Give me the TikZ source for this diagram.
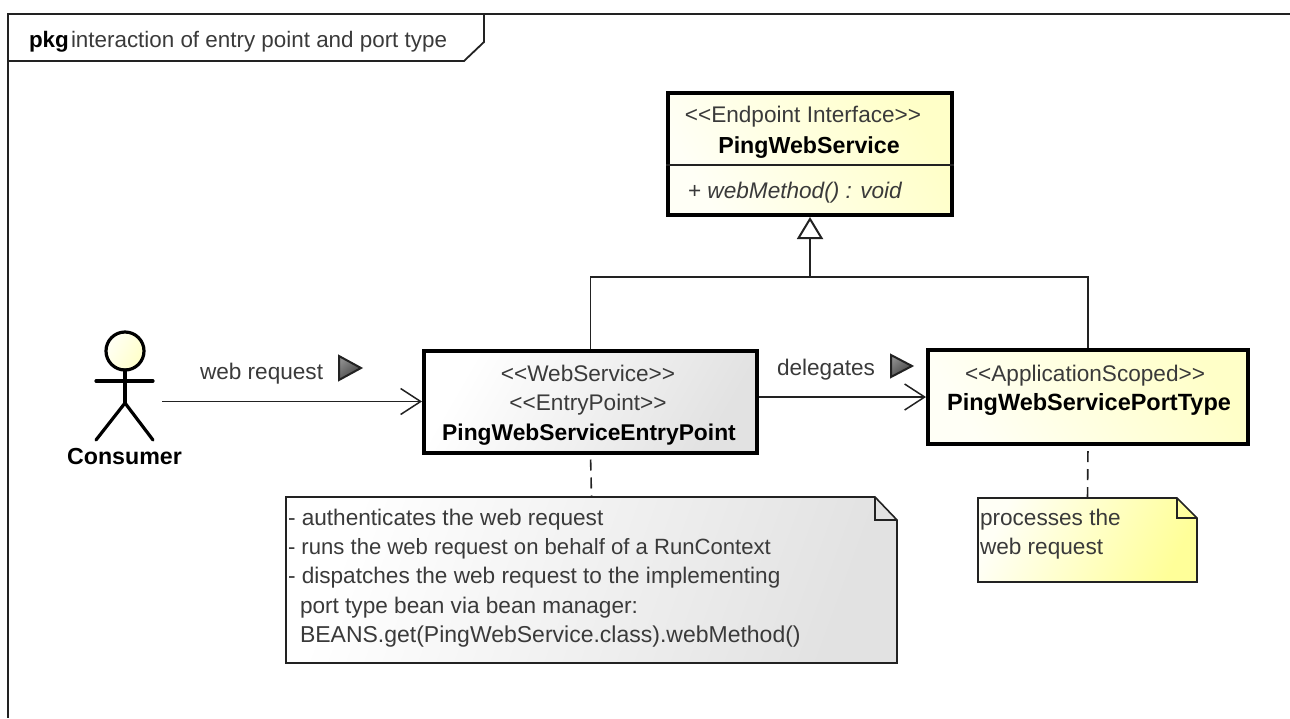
\documentclass[tikz,border=0pt]{standalone}
\usepackage{fontspec}
\setmainfont{Liberation Sans}
\usetikzlibrary{arrows.meta}
\definecolor{ink}{HTML}{222222}
\definecolor{soft}{HTML}{3A3A3A}
\definecolor{yelA}{HTML}{FFFFF6}
\definecolor{yelB}{HTML}{FFFFC8}
\definecolor{yelC}{HTML}{FFFF99}
\definecolor{greyA}{HTML}{FFFFFF}
\definecolor{greyB}{HTML}{E2E2E2}
\newcommand{\stereo}[1]{<{}<#1>{}>}
\tikzset{
  x=1pt,y=-1pt,
  base/.style={font=\fontsize{22.6}{29.3}\selectfont,inner sep=0pt,outer sep=0pt},
  label/.style={base,text=soft},
  bold/.style={base,text=black,font=\fontsize{23.2}{29}\selectfont\bfseries},
  classbox/.style={draw=black,line width=4pt,inner sep=0pt,outer sep=2pt},
  yelbox/.style={classbox,top color=yelB,bottom color=yelA,shading angle=-60},
  greybox/.style={classbox,top color=greyA,bottom color=greyB,shading angle=60},
  geom/.style={inner sep=0pt,outer sep=0pt},
  notetext/.style={label,align=left,anchor=north west},
  conn/.style={draw=ink,line width=1.6pt},
  assoc/.style={conn,-{Straight Barb[length=20pt,width=26pt,line width=1.5pt]}},
  gen/.style={conn,-{Triangle[open,length=22pt,width=26pt,line width=2pt,fill=white]}},
  notelink/.style={draw=ink,line width=1.6pt,dash pattern=on 11pt off 7pt,dash phase=13pt},
  noteline/.style={draw=ink,line width=1.6pt,line join=miter},
  stick/.style={draw=black,line width=3.2pt,line cap=round},
  dir/.style={draw=ink,line width=2pt,line join=miter,top color=black!45,bottom color=black!75,shading angle=40},
}
\begin{document}
\begin{tikzpicture}
\useasboundingbox (0,0) rectangle (1290,718);
% frame
\draw[draw=ink,line width=1.8pt] (1290,14) -- (8,14) -- (8,718);
\draw[draw=ink,line width=1.8pt] (484,14) -- (484,42) -- (464,61) -- (8,61);
\node[base,anchor=base west,font=\fontsize{22.4}{29}\selectfont\bfseries,text=black] (pkg) at (29,47) {pkg};
\node[label,anchor=base west,font=\fontsize{22.4}{29}\selectfont] (title) at (71,47) {interaction of entry point and port type};
% classes
\node[yelbox,minimum width=284pt,minimum height=122pt] (pws) at (810,154) {};
\draw[draw=ink,line width=1.4pt] (pws.west |- 0,165) -- (pws.east |- 0,165);
\node[label,anchor=base] (pwsS) at (803,122) {\stereo{Endpoint Interface}};
\node[bold,anchor=base] (pwsN) at (809,153) {PingWebService};
\node[label,anchor=base west] (pwsM) at (688,198) {+ \textit{webMethod() : void}};

\node[greybox,minimum width=333pt,minimum height=102pt] (entry) at (590.5,401.5) {};
\node[label,anchor=base] (entryA) at (588,381) {\stereo{WebService}};
\node[label,anchor=base] (entryB) at (588,410) {\stereo{EntryPoint}};
\node[bold,anchor=base,font=\fontsize{22.8}{29}\selectfont\bfseries] (entryC) at (589,440) {PingWebServiceEntryPoint};

\node[yelbox,minimum width=320pt,minimum height=94pt] (port) at (1088,397) {};
\node[label,anchor=base] (portA) at (1085,381) {\stereo{ApplicationScoped}};
\node[bold,anchor=base,font=\fontsize{23.5}{29}\selectfont\bfseries] (portB) at (1089,410) {PingWebServicePortType};

% actor
\shade[draw=black,line width=3.2pt,top color=yelA,bottom color=yelB,shading angle=60] (125,351) circle (19);
\coordinate (neck) at (125,370);
\coordinate (hip) at (125,403);
\draw[stick] (neck) -- (hip);
\draw[stick] (96,381) -- (153,381);
\draw[stick] (96,440) -- (hip) -- (153,440);
\node[bold,anchor=base] (consumer) at (124.5,464) {Consumer};

% connectors
\coordinate (actorR) at (162,401.5);
\draw[assoc] (actorR) -- (entry.west);
\node[label,anchor=base west] (webreq) at (200,379) {web request};
\path[dir] (339,356) -- (339,380) -- (361,368) -- cycle;
\draw[assoc] (entry.east |- port.west) -- (port.west);
\node[label,anchor=base west] (deleg) at (777,375) {delegates};
\path[dir] (891,355) -- (891,377) -- (912,366) -- cycle;
\coordinate (junction) at (810,277);
\draw[conn] (entry.north) |- (junction) -| (port.north);
\draw[gen] (junction) -- (pws.south);

% notes
\node[geom,minimum width=611pt,minimum height=166pt] (noteA) at (591.5,580) {};
\coordinate (foldA1) at (875,497);
\coordinate (foldA2) at (897,520);
\shade[noteline,top color=greyA,bottom color=greyB,shading angle=70]
  (noteA.north west) -- (foldA1) -- (foldA2) -- (noteA.south east) -- (noteA.south west) -- cycle;
\draw[noteline] (foldA1) -- (foldA1 |- foldA2) -- (foldA2);
\node[notetext] (noteAt) at (288,509) {- authenticates the web request\\{\fontsize{22.1}{29.3}\selectfont - runs the web request on behalf of a RunContext}\\- dispatches the web request to the implementing\\\hspace*{12pt}port type bean via bean manager:\\\hspace*{12pt}{\fontsize{23}{29.3}\selectfont BEANS.get(PingWebService.class).webMethod()}};
\draw[notelink] (entry.south) -- (noteA.north);

\node[geom,minimum width=219pt,minimum height=84pt] (noteB) at (1087.5,540) {};
\coordinate (foldB1) at (1177,498);
\coordinate (foldB2) at (1197,518);
\shade[noteline,top color=yelA,bottom color=yelC,shading angle=65]
  (noteB.north west) -- (foldB1) -- (foldB2) -- (noteB.south east) -- (noteB.south west) -- cycle;
\draw[noteline] (foldB1) -- (foldB1 |- foldB2) -- (foldB2);
\node[notetext] (noteBt) at (980,509) {processes the\\web request};
\draw[notelink] (port.south) -- (noteB.north);
\end{tikzpicture}
\end{document}
